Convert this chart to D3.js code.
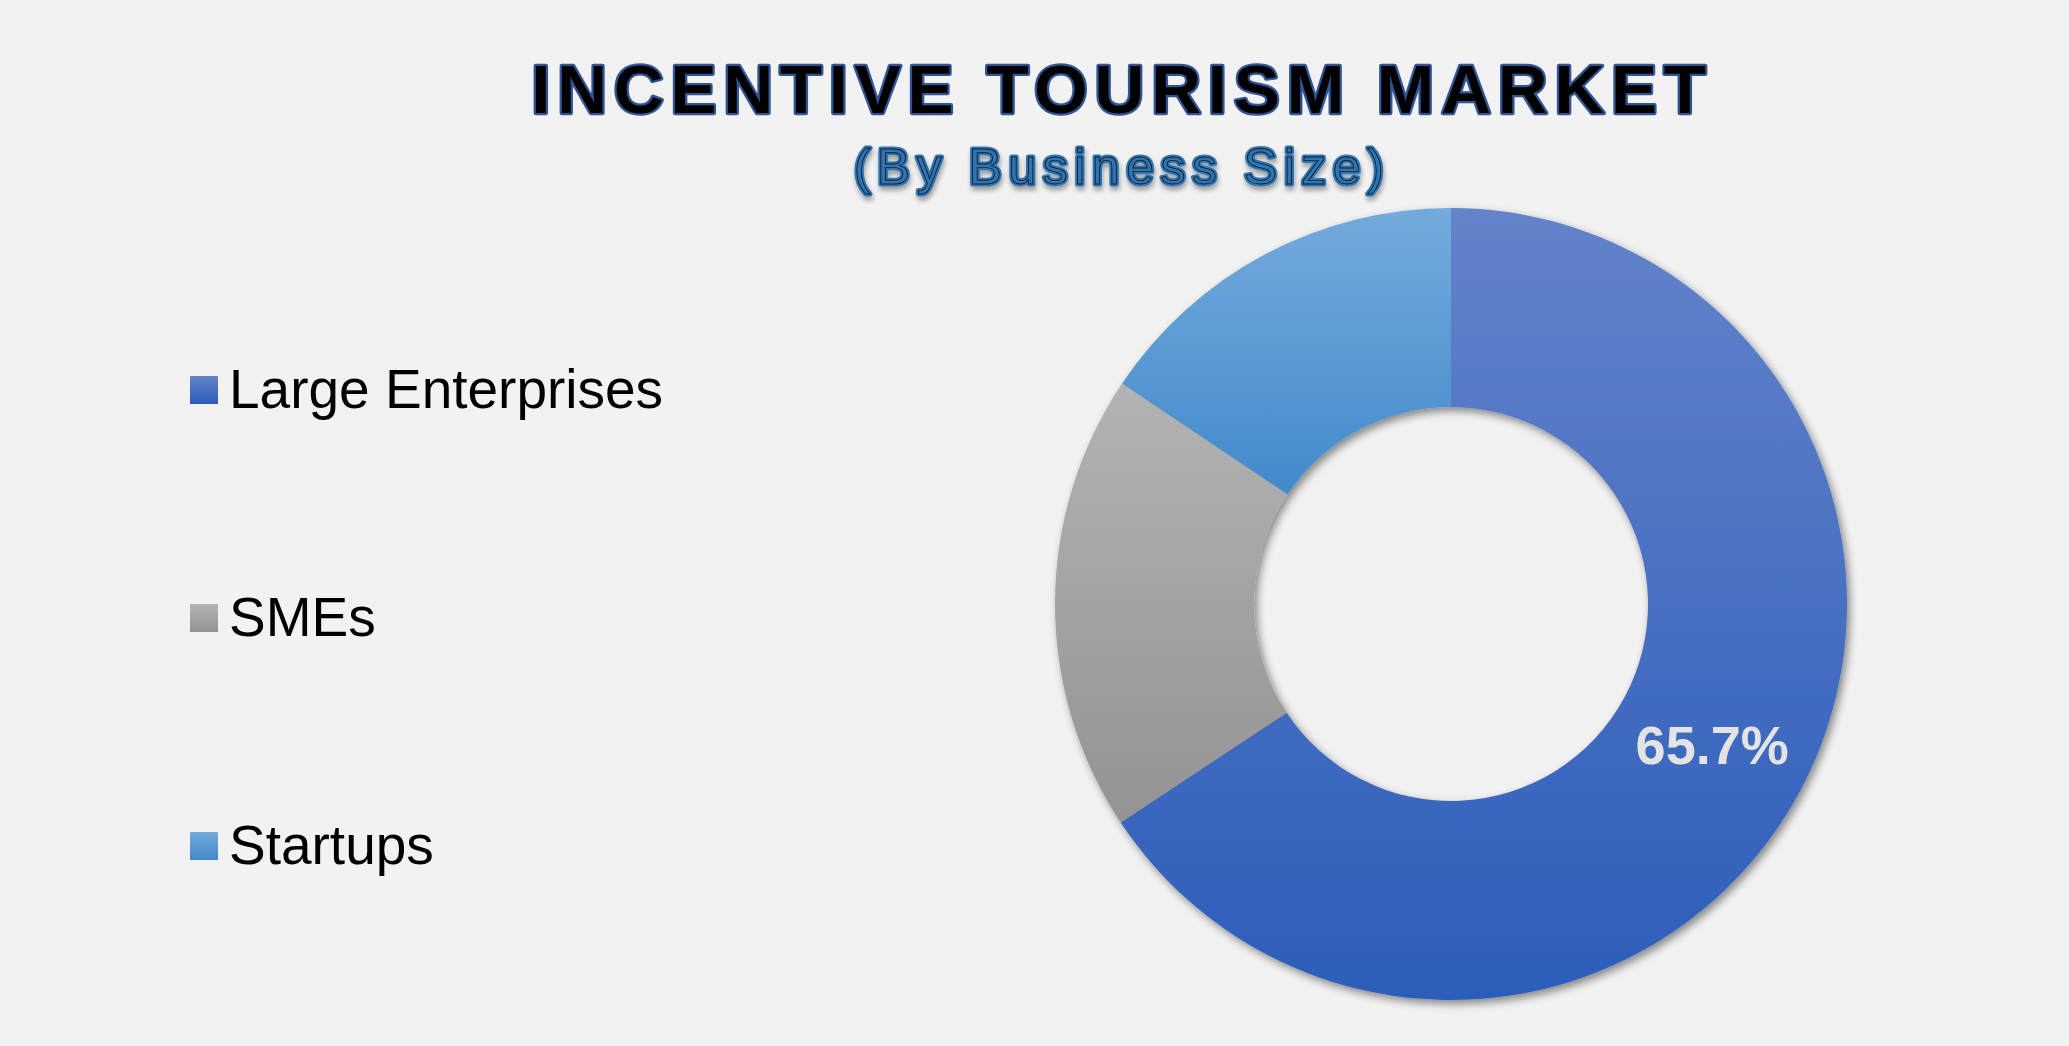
<!DOCTYPE html>
<html>
<head>
<meta charset="utf-8">
<script src="https://cdn.jsdelivr.net/npm/d3@7"></script>
<style>
  html, body { margin: 0; padding: 0; background: #f2f2f2; }
  svg { display: block; }
  text { font-family: "Liberation Sans", Arial, sans-serif; }
</style>
</head>
<body>
<svg id="root" width="2069" height="1046"></svg>
<script>
//Chart data
const categories = ["Large Enterprises", "SMEs", "Startups"];
const shares = [65.7, 18.7, 15.6];                 //percent of market
const sliceLabels = ["65.7%", null, null];         //only the big slice is labelled
const gradTop = ["#6383ca", "#b3b3b3", "#74aadd"]; //top colour of each slice gradient
const gradBottom = ["#2c5dba", "#939393", "#428acb"];

const titleText = "INCENTIVE TOURISM MARKET";
const subtitleText = "(By Business Size)";

const svg = d3.select("#root");
const defs = svg.append("defs");

//Vertical gradients, one per category (bounding box of each shape)
categories.forEach((c, i) => {
    const g = defs.append("linearGradient")
        .attr("id", "grad" + i)
        .attr("x1", 0).attr("y1", 0).attr("x2", 0).attr("y2", 1);
    g.append("stop").attr("offset", "0%").attr("stop-color", gradTop[i]);
    g.append("stop").attr("offset", "100%").attr("stop-color", gradBottom[i]);
});

//Soft shadow for the ring
const shadow = defs.append("filter").attr("id", "ringShadow")
    .attr("x", "-10%").attr("y", "-10%").attr("width", "120%").attr("height", "120%");
shadow.append("feDropShadow")
    .attr("dx", 3).attr("dy", 4).attr("stdDeviation", 4)
    .attr("flood-color", "#000").attr("flood-opacity", 0.45);

//Shadow under the subtitle
const textShadow = defs.append("filter").attr("id", "textShadow")
    .attr("x", "-5%").attr("y", "-20%").attr("width", "110%").attr("height", "150%");
textShadow.append("feDropShadow")
    .attr("dx", 1).attr("dy", 4).attr("stdDeviation", 2.5)
    .attr("flood-color", "#000").attr("flood-opacity", 0.35);

//Title
svg.append("text")
    .attr("x", 1122).attr("y", 113)
    .attr("text-anchor", "middle")
    .style("font-size", "69px")
    .style("font-weight", "bold")
    .style("letter-spacing", "6.8px")
    .style("fill", "#000")
    .style("stroke", "#2f5597")
    .style("stroke-width", 4.5)
    .style("stroke-linejoin", "round")
    .style("paint-order", "stroke")
    .text(titleText);

//Subtitle: blue body with thin dark contour
const sub = svg.append("g").attr("filter", "url(#textShadow)");
sub.append("text")
    .attr("x", 1122).attr("y", 184)
    .attr("text-anchor", "middle")
    .style("font-size", "50px")
    .style("letter-spacing", "6.5px")
    .style("fill", "#2e75b6")
    .style("stroke", "#2e75b6")
    .style("stroke-width", 5)
    .style("stroke-linejoin", "round")
    .text(subtitleText);
sub.append("text")
    .attr("x", 1122).attr("y", 184)
    .attr("text-anchor", "middle")
    .style("font-size", "50px")
    .style("letter-spacing", "6.5px")
    .style("fill", "#2e75b6")
    .style("stroke", "#1a1a1a")
    .style("stroke-width", 0.9)
    .text(subtitleText);

//Donut
const cx = 1451, cy = 604;
const outerR = 396, innerR = 197;

const pie = d3.pie().sort(null).value(d => d);
const arc = d3.arc().innerRadius(innerR).outerRadius(outerR);

const donut = svg.append("g")
    .attr("transform", `translate(${cx}, ${cy})`);

donut.append("g")
    .attr("filter", "url(#ringShadow)")
    .selectAll("path")
    .data(pie(shares))
    .enter()
    .append("path")
    .attr("d", arc)
    .style("fill", (d, i) => `url(#grad${i})`);

donut.selectAll(".slice-label")
    .data(pie(shares))
    .enter()
    .filter((d, i) => sliceLabels[i])
    .append("text")
    .attr("class", "slice-label")
    .attr("transform", d => `translate(${arc.centroid(d)})`)
    .attr("text-anchor", "middle")
    .attr("dy", "0.36em")
    .style("font-size", "54px")
    .style("font-weight", "bold")
    .style("fill", "#e3e3e3")
    .text((d, i) => sliceLabels[i]);

//Legend
const legendY = d3.scalePoint().domain(categories).range([408, 864]);

const legend = svg.append("g").attr("id", "legend")
    .selectAll("g")
    .data(categories)
    .enter()
    .append("g")
    .attr("transform", d => `translate(0, ${legendY(d)})`);

legend.append("rect")
    .attr("x", 190).attr("y", -32)
    .attr("width", 28).attr("height", 28)
    .style("fill", (d, i) => `url(#grad${i})`);

legend.append("text")
    .attr("x", 229).attr("y", 0)
    .style("font-size", "55px")
    .style("fill", "#000")
    .text(d => d);
</script>
</body>
</html>
